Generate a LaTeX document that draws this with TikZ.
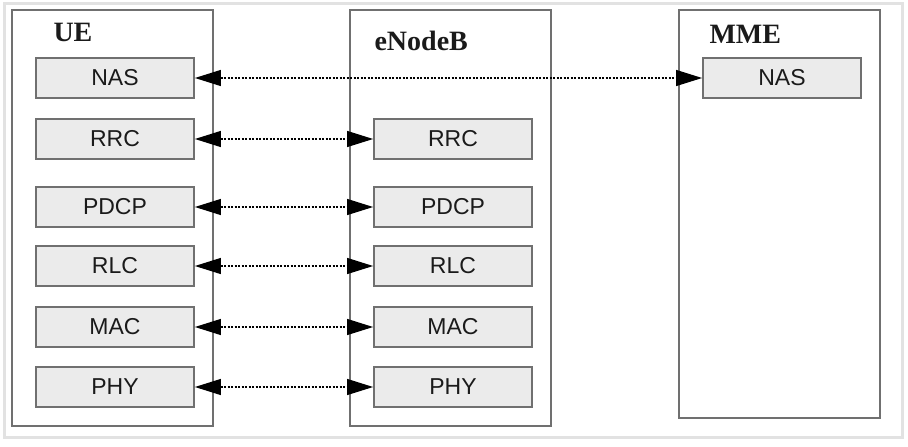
\documentclass[tikz,border=0pt]{standalone}
\usepackage{fontspec}
\setmainfont{Liberation Serif}
\setsansfont{Liberation Sans}
\usetikzlibrary{positioning, arrows.meta}
\definecolor{BoxFill}{HTML}{EBEBEB}
\definecolor{EdgeGray}{HTML}{707070}
\definecolor{FrameGray}{HTML}{E2E2E2}
\definecolor{InkDark}{HTML}{1A1A1A}

\begin{document}
\begin{tikzpicture}[x=1pt, y=-1pt,
  layer/.style={draw=EdgeGray, fill=BoxFill, line width=1.8pt, inner sep=0pt,
    minimum width=158pt, minimum height=40pt,
    font=\sffamily\fontsize{23}{26}\selectfont, text=InkDark},
  entity/.style={draw=EdgeGray, line width=2pt, inner sep=0pt, minimum width=201pt},
  title/.style={font=\bfseries\fontsize{28}{32}\selectfont, anchor=west, text=InkDark},
  peer/.style={{Triangle[length=26pt,width=16pt]}-{Triangle[length=26pt,width=16pt]},
    dash pattern=on 2pt off 1.5pt, line width=1.2pt, black},
]
  \useasboundingbox (0,0) rectangle (908,447);

  % Y positions
  \def\ya{78}   % NAS
  \def\yb{139}  % RRC
  \def\yc{207}  % PDCP
  \def\yd{266}  % RLC
  \def\ye{327}  % MAC
  \def\yf{387}  % PHY

  % Frame
  \draw[FrameGray, line width=3pt] (4,3) rectangle (902,437);

  % Entities
  \node[entity, minimum height=416pt] (ue) at (112.5,218) {};
  \node[entity, minimum height=416pt] (enb) at (450.5,218) {};
  \node[entity, minimum height=408pt] (mme) at (779.5,214) {};

  \node[title] (ue-title) at (50,32) {UE};
  \node[title] (enb-title) at (371,41) {eNodeB};
  \node[title] (mme-title) at (706,34) {MME};

  % UE stack
  \node[layer] (ue-nas) at (115,\ya) {NAS};
  \node[layer] (ue-rrc) at (115,\yb) {RRC};
  \node[layer] (ue-pdcp) at (115,\yc) {PDCP};
  \node[layer] (ue-rlc) at (115,\yd) {RLC};
  \node[layer] (ue-mac) at (115,\ye) {MAC};
  \node[layer] (ue-phy) at (115,\yf) {PHY};

  % eNodeB stack
  \node[layer] (enb-rrc) at (453,\yb) {RRC};
  \node[layer] (enb-pdcp) at (453,\yc) {PDCP};
  \node[layer] (enb-rlc) at (453,\yd) {RLC};
  \node[layer] (enb-mac) at (453,\ye) {MAC};
  \node[layer] (enb-phy) at (453,\yf) {PHY};

  % MME stack
  \node[layer] (mme-nas) at (782,\ya) {NAS};

  % Peer links
  \draw[peer] (ue-nas.east) -- (mme-nas.west);
  \foreach \l in {rrc,pdcp,rlc,mac,phy} {
    \draw[peer] (ue-\l.east) -- (enb-\l.west);
  }
\end{tikzpicture}
\end{document}
